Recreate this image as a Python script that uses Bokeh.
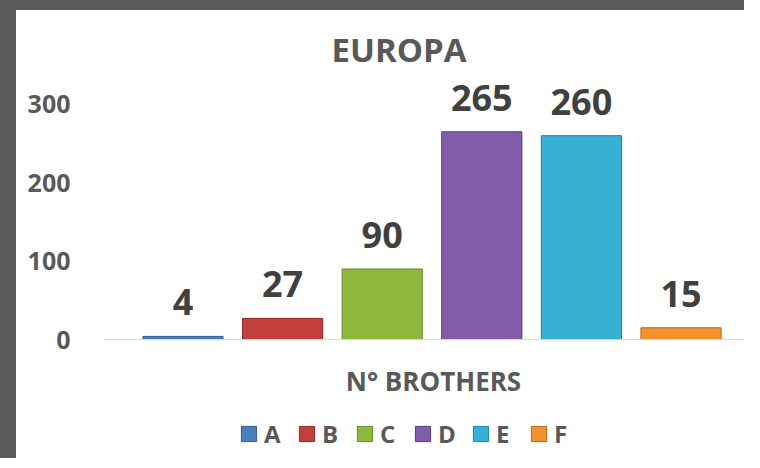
from bokeh.plotting import figure
from bokeh.models import (ColumnDataSource, FactorRange, Range1d, LabelSet, Legend,
                          LegendItem, Title, FixedTicker, Span, Label)
from bokeh.core.properties import value
from bokeh.embed import file_html
from bokeh.resources import INLINE

# ---- data ----
categories = ["A", "B", "C", "D", "E", "F"]
counts = [4, 27, 90, 265, 260, 15]
y_ticks = [0, 100, 200, 300]
chart_title = "EUROPA"
x_title = "N° BROTHERS"

# ---- styles ----
fill_colors = ["#4a7ebb", "#c2403c", "#8db83c", "#805ca9", "#38b0d4", "#f2922c"]
line_colors = ["#365f92", "#8f2a27", "#67892a", "#563b7c", "#217f9a", "#b96915"]
FONT = "Open Sans"
TXT = "#595959"

src = ColumnDataSource(dict(cat=categories, val=counts, fill=fill_colors,
                            line=line_colors, lbl=[str(v) for v in counts]))

p = figure(width=744, height=458,
           x_range=FactorRange(factors=categories, range_padding=0.298,
                               range_padding_units="absolute"),
           y_range=Range1d(-164.5, 335.5),
           output_backend="svg", toolbar_location=None,
           min_border_left=87, min_border_right=0, min_border_top=66,
           min_border_bottom=0)
p.styles = {"border-left": "16px solid #5a5a5a", "border-top": "10px solid #5a5a5a"}
p.outline_line_color = None
p.background_fill_color = "white"
p.border_fill_color = "white"
p.grid.grid_line_color = None
p.xaxis.visible = False

p.title = Title(text=chart_title, align="left", offset=228, text_font=FONT,
                text_font_size="33px", text_font_style="bold", text_color=TXT)

p.add_layout(Span(location=0, dimension="width", line_color="#d9d9d9", line_width=1))

r = p.vbar(x="cat", top="val", width=0.805, source=src, fill_color="fill",
           line_color="line", line_width=1)

# y axis
p.yaxis.ticker = FixedTicker(ticks=y_ticks)
p.yaxis.axis_line_color = None
p.yaxis.major_tick_line_color = None
p.yaxis.minor_tick_line_color = None
p.yaxis.major_label_standoff = 27
p.yaxis.major_label_text_font = FONT
p.yaxis.major_label_text_font_size = "25px"
p.yaxis.major_label_text_font_style = "bold"
p.yaxis.major_label_text_color = TXT

p.add_layout(Label(x=330, y=88, x_units="screen", y_units="screen", text=x_title,
                   text_align="center", text_baseline="middle", text_font=FONT,
                   text_font_size="26px", text_font_style="bold", text_color=TXT))

labels = LabelSet(x="cat", y="val", text="lbl", source=src, y_offset=34,
                  text_align="center", text_baseline="middle",
                  text_font=value(FONT), text_font_size="36px",
                  text_font_style="bold", text_color="#404040")
p.add_layout(labels)

legend = Legend(items=[LegendItem(label=dict(field="cat"), renderers=[r])],
                orientation="horizontal", location=(136, 18),
                glyph_width=19, glyph_height=19, label_standoff=6, spacing=13,
                padding=0, margin=0, border_line_color=None,
                background_fill_alpha=0,
                label_text_font=FONT, label_text_font_size="24px",
                label_text_font_style="bold", label_text_color=TXT)
p.add_layout(legend)

open("out.html", "w").write(file_html(p, INLINE))
